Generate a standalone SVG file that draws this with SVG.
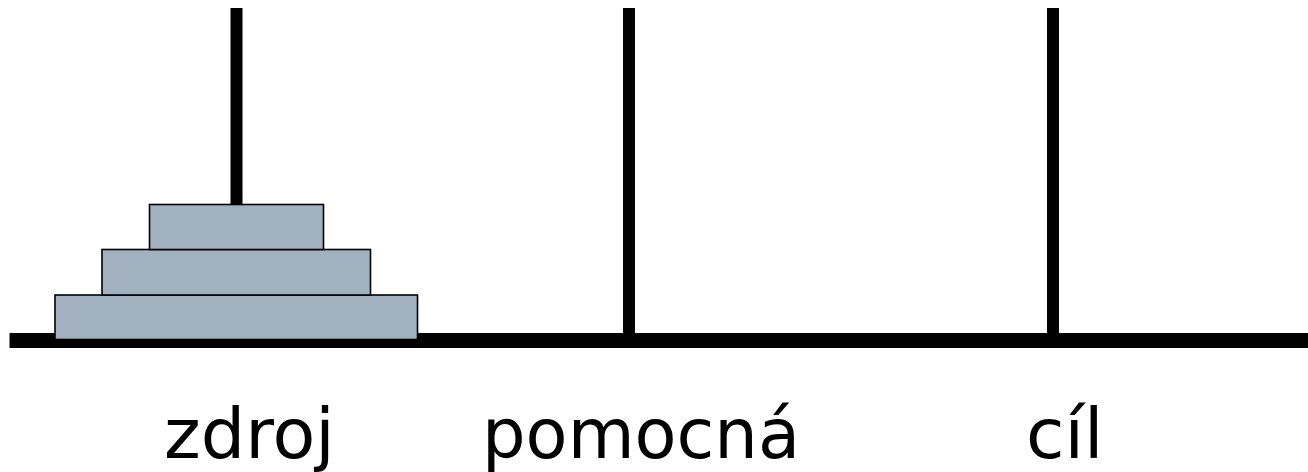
<svg xmlns="http://www.w3.org/2000/svg" width="1308" height="472" viewBox="0 0 1308 472">
<style>
.pole{stroke:#000;stroke-width:12;fill:none}
.base{fill:#000}
.disk{fill:#A2B1C0;stroke:#000;stroke-width:1.6}
.lbl{font-family:"DejaVu Sans",Verdana,sans-serif;font-size:70px;fill:#000}
</style>
<rect width="1308" height="472" fill="#fff"/>
<g id="poles">
<line class="pole" x1="236.5" y1="8" x2="236.5" y2="334"/>
<line class="pole" x1="629" y1="8" x2="629" y2="334"/>
<line class="pole" x1="1053" y1="8" x2="1053" y2="334"/>
</g>
<g id="base"><rect class="base" x="9.5" y="333" width="1298.5" height="15"/></g>
<g id="disk1"><rect class="disk" x="55" y="295" width="362.5" height="44.5"/></g>
<g id="disk2"><rect class="disk" x="102" y="249.5" width="268.5" height="45.5"/></g>
<g id="disk3"><rect class="disk" x="149.5" y="204.5" width="174" height="45"/></g>
<g id="labels">
<text class="lbl" x="164" y="458">zdroj</text>
<text class="lbl" x="482" y="458" textLength="318" lengthAdjust="spacingAndGlyphs">pomocná</text>
<text class="lbl" x="1026" y="458">cíl</text>
</g>
</svg>
